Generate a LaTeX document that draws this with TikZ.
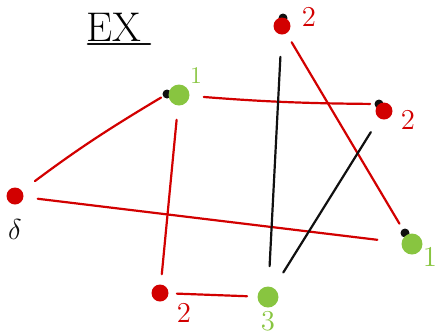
\documentclass[tikz,border=0pt]{standalone}
\usepackage{tikz}
\usetikzlibrary{arrows.meta, positioning, calc}
\definecolor{penred}{HTML}{D20000}
\definecolor{pengreen}{HTML}{88C540}
\definecolor{penblack}{HTML}{101010}

\begin{document}
\begin{tikzpicture}[x=0.5pt, y=-0.5pt, line cap=round,
  reddot/.style={circle, fill=penred, inner sep=0pt, minimum size=8.5pt},
  greendot/.style={circle, fill=pengreen, inner sep=0pt, minimum size=10.5pt},
  visit/.style={circle, fill=penblack, inner sep=0pt, minimum size=4.5pt},
  redge/.style={penred, line width=1.1pt},
  bedge/.style={penblack, line width=1.1pt},
  dist/.style={font=\Large}]
  \useasboundingbox (0,0) rectangle (435,334);

  % Title
  \node[font=\huge] (title) at (114,27) {EX};
  \draw[penblack, line width=1.3pt] (88,44) -- (150,44);

  % Visit marks
  \node[visit] (a0) at (167,94) {};
  \node[visit] (b0) at (283,18) {};
  \node[visit] (c0) at (379,104) {};
  \node[visit] (d0) at (405,233) {};

  % Vertices
  \node[reddot] (s) at (15,196) {};
  \node[greendot] (a) at (179,95) {};
  \node[reddot] (b) at (282,26) {};
  \node[reddot] (c) at (384,111) {};
  \node[greendot] (d) at (412,244) {};
  \node[reddot] (e) at (160,293) {};
  \node[greendot] (f) at (268,297) {};

  % Labels
  \node[penblack, dist] at (15,229) {$\delta$};
  \node[pengreen, font=\large] at (196,76) {1};
  \node[penred, dist] at (309,17) {2};
  \node[penred, dist] at (408,120) {2};
  \node[pengreen, dist] at (430,257) {1};
  \node[penred, dist] at (184,313) {2};
  \node[pengreen, dist] at (268,321) {3};

  % Red edges
  \draw[redge, shorten <=8pt, shorten >=1pt] (s) to[bend left=3] (a0);
  \draw[redge, shorten <=7pt, shorten >=12pt] (s) -- (d);
  \draw[redge, shorten <=7pt, shorten >=2pt] (a) to[bend right=2] (c0);
  \draw[redge, shorten <=7pt, shorten >=5pt] (a) -- (e);
  \draw[redge, shorten <=4pt, shorten >=5pt] (e) -- (f);
  \draw[redge, shorten <=5pt, shorten >=3pt] (b) -- (d0);

  % Black edges
  \draw[bedge, shorten <=11pt, shorten >=10pt] (b) -- (f);
  \draw[bedge, shorten <=8pt, shorten >=9pt] (c) -- (f);
\end{tikzpicture}
\end{document}
